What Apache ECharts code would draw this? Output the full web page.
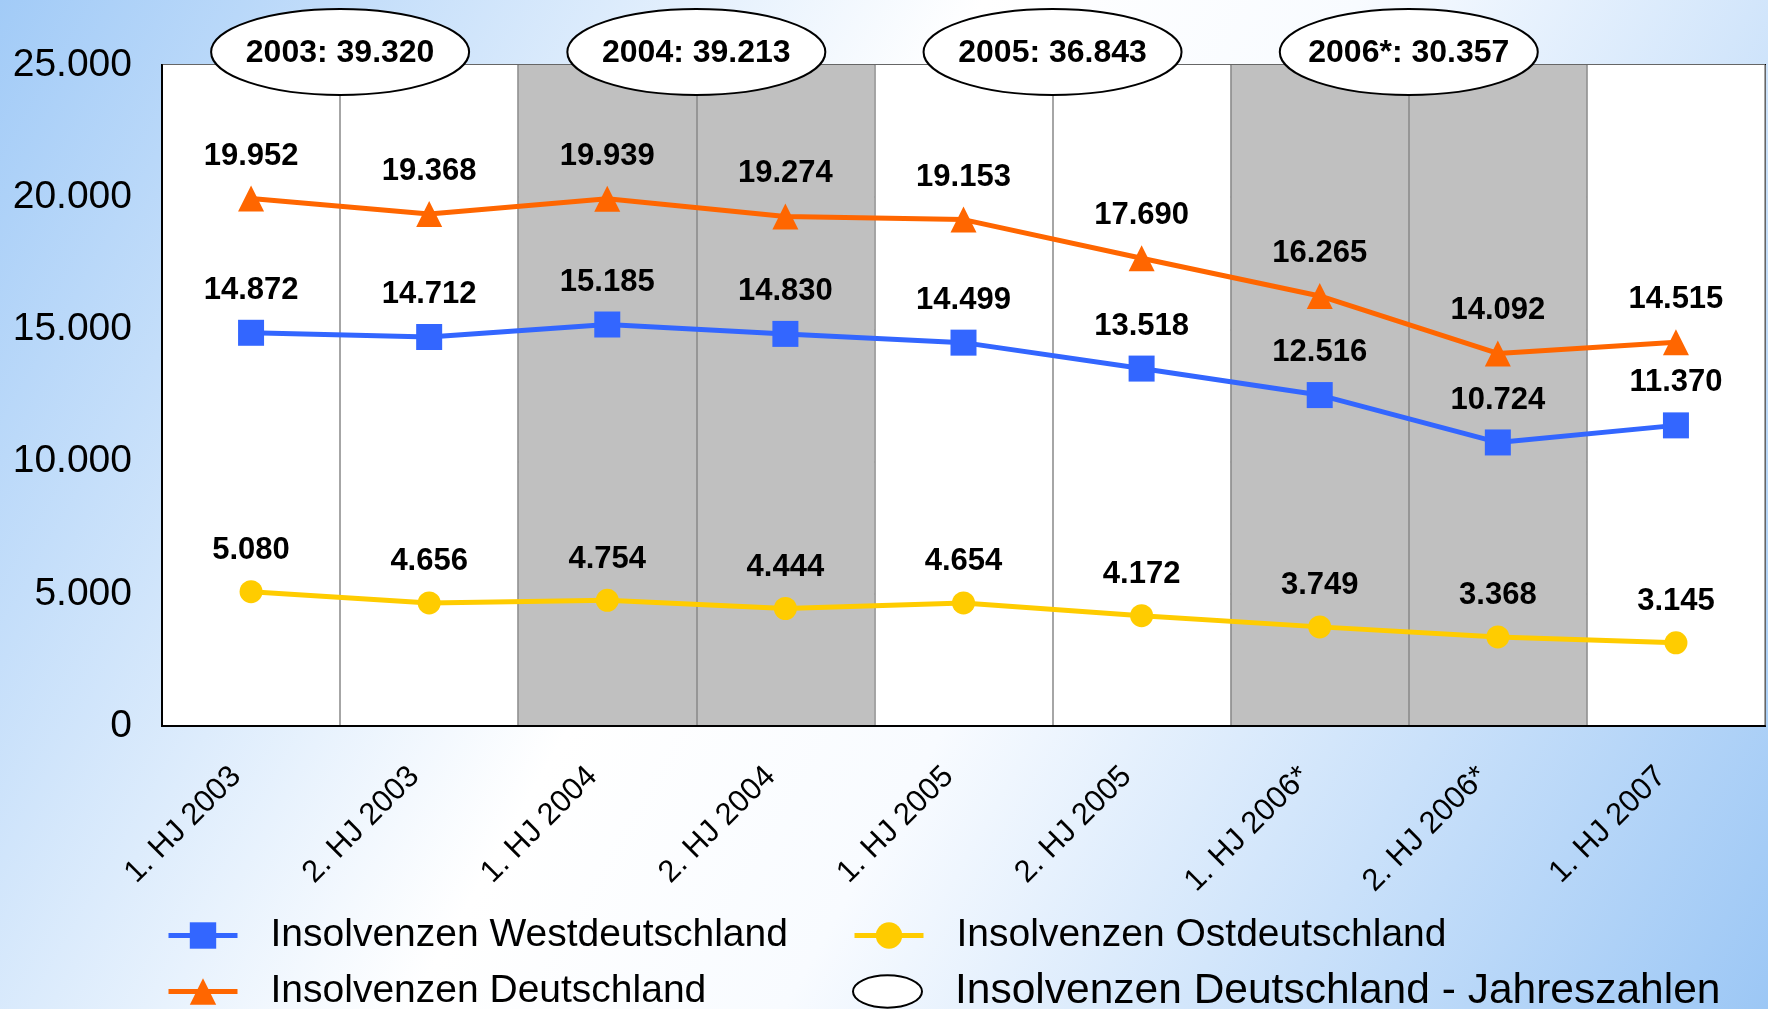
<!DOCTYPE html>
<html><head><meta charset="utf-8">
<script src="https://cdn.jsdelivr.net/npm/echarts@6/dist/echarts.min.js"></script>
<style>html,body{margin:0;padding:0;}#c{width:1768px;height:1009px;}</style>
</head><body><div id="c"></div>
<script>
const categories = ['1. HJ 2003','2. HJ 2003','1. HJ 2004','2. HJ 2004','1. HJ 2005','2. HJ 2005','1. HJ 2006*','2. HJ 2006*','1. HJ 2007'];
const west = [14872,14712,15185,14830,14499,13518,12516,10724,11370];
const gesamt = [19952,19368,19939,19274,19153,17690,16265,14092,14515];
const ost = [5080,4656,4754,4444,4654,4172,3749,3368,3145];
const yearLabels = ['2003','2004','2005','2006*'];
const yearTotals = [39320,39213,36843,30357];

const FONT = '"Liberation Sans", Arial, sans-serif';
const fmt = v => String(v).replace(/\B(?=(\d{3})+(?!\d))/g, '.');

const chart = echarts.init(document.getElementById('c'));
const lbl = {show:true, position:'top', distance:14, color:'#000', fontWeight:'bold', fontSize:31, fontFamily:FONT, formatter:p=>fmt(p.value)};
const ellipsePath = 'path://M0,23.5a50,23.5 0 1,0 100,0a50,23.5 0 1,0 -100,0z';

const legendBase = (left, top, item, fs) => ({
  orient:'horizontal', left:left, top:top, itemWidth:69, itemHeight:33,
  lineStyle:{width:5},
  textStyle:{fontSize:fs || 39, fontFamily:FONT, color:'#000', padding:[0,0,0,28]},
  data:[item]
});

chart.setOption({
  backgroundColor: {type:'linear', x:0, y:0, x2:1, y2:1, colorStops:[
    {offset:0, color:'#a2cbf7'},{offset:0.42, color:'#ffffff'},{offset:0.58, color:'#f8fbff'},{offset:1, color:'#9cc7f5'}]},
  animation:false,
  grid:{left:162, right:3, top:65, bottom:283, show:true, backgroundColor:'#ffffff', borderColor:'#000', borderWidth:2},
  xAxis:{type:'category', data:categories, boundaryGap:true,
    axisLine:{show:true, lineStyle:{color:'#000', width:2}}, axisTick:{show:false},
    axisLabel:{rotate:45, margin:31, color:'#000', fontSize:31, fontFamily:FONT, interval:0, padding:[0,21,0,0]},
    splitLine:{show:true, interval:0, lineStyle:{color:'#888', width:1.5}},
    splitArea:{show:true, interval:0, areaStyle:{color:['#ffffff','#ffffff','#c0c0c0','#c0c0c0']}}},
  yAxis:{type:'value', min:0, max:25000, interval:5000,
    axisLine:{show:true, lineStyle:{color:'#000', width:2}}, axisTick:{show:false},
    axisLabel:{margin:30, color:'#000', fontSize:39, fontFamily:FONT, formatter:v=>fmt(v)},
    splitLine:{show:true, lineStyle:{color:'#888', width:1.5}}},
  legend:[
    legendBase(161, 911, 'Insolvenzen Westdeutschland'),
    legendBase(161, 967, 'Insolvenzen Deutschland'),
    legendBase(847, 911, 'Insolvenzen Ostdeutschland'),
    legendBase(847, 965, {name:'Insolvenzen Deutschland - Jahreszahlen', icon:ellipsePath,
      itemStyle:{color:'#fff', borderColor:'#000', borderWidth:2}}, 42.5)
  ],
  series:[
    {name:'Insolvenzen Westdeutschland', type:'line', data:west, color:'#3366ff',
     symbol:'rect', symbolSize:26, lineStyle:{width:5}, label:lbl, z:3},
    {name:'Insolvenzen Deutschland', type:'line', data:gesamt, color:'#ff6600',
     symbol:'triangle', symbolSize:26, lineStyle:{width:5}, label:lbl, z:3},
    {name:'Insolvenzen Ostdeutschland', type:'line', data:ost, color:'#ffcc00',
     symbol:'circle', symbolSize:23, lineStyle:{width:5}, label:lbl, z:3},
    {name:'Insolvenzen Deutschland - Jahreszahlen', type:'custom', color:'#ffffff', z:10, clip:false,
     data: yearTotals.map((v,i)=>[i, v]),
     renderItem:(params, api)=>{
       const i = api.value(0);
       const a = api.coord([2*i, 25000]);
       const b = api.coord([2*i+1, 25000]);
       const cx = (a[0]+b[0])/2, cy = a[1]-13;
       return {type:'group', children:[
         {type:'ellipse', shape:{cx:cx, cy:cy, rx:129, ry:43}, style:{fill:'#fff', stroke:'#000', lineWidth:2}},
         {type:'text', style:{text: yearLabels[i]+': '+fmt(yearTotals[i]), x:cx, y:cy+1, align:'center', verticalAlign:'middle',
           font:'bold 32px "Liberation Sans", Arial, sans-serif', fill:'#000'}}
       ]};
     }}
  ]
});
</script></body></html>
